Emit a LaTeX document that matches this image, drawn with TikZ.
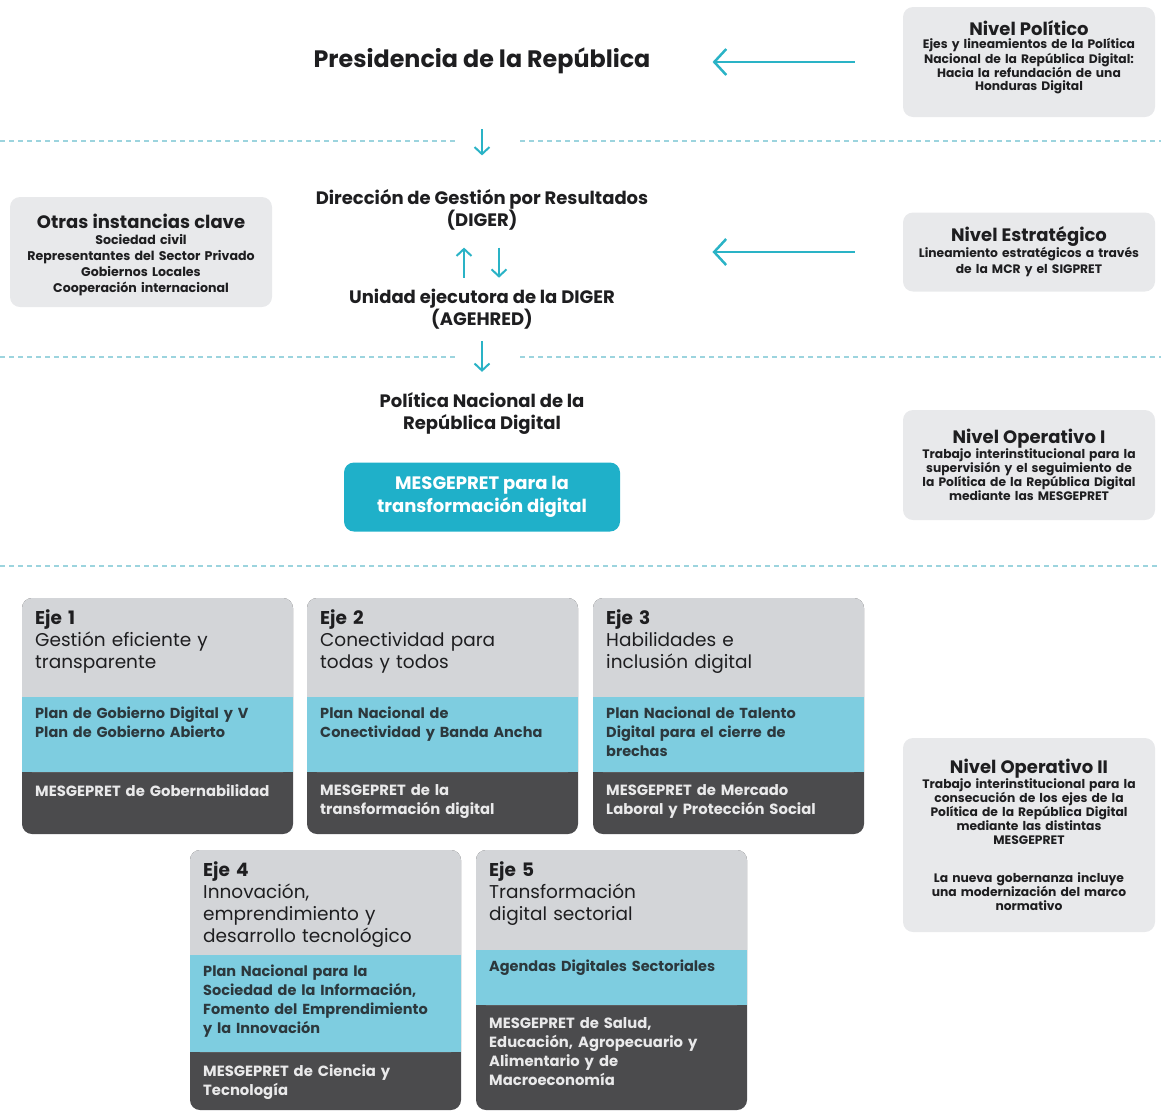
\documentclass[tikz,border=0pt]{standalone}
\usepackage{fontspec}
\setmainfont{Poppins}
\usetikzlibrary{arrows.meta}
\definecolor{Ink}{HTML}{1E1E20}
\definecolor{Teal}{HTML}{2AB3C6}
\definecolor{Dash}{HTML}{9CD4DE}
\definecolor{Panel}{HTML}{E8E9EB}
\definecolor{EjeGray}{HTML}{D3D5D8}
\definecolor{EjeBlue}{HTML}{7ECDE0}
\definecolor{EjeDark}{HTML}{4B4B4D}
\definecolor{Button}{HTML}{1FB0C9}

% one axis box: name, left, top, plan top, mesa top, bottom, texts
\newcommand{\ejebox}[9]{%
  \fill[EjeDark,rounded corners=10pt] (#2,#3) rectangle ({#2+271},#6);
  \fill[EjeGray,rounded corners=10pt] (#2,#3) rectangle ({#2+271},#5);
  \fill[EjeBlue] (#2,#4) rectangle ({#2+271},#5);
  \node[ejetitle] (#1t) at ({#2+13},{#3+11}) {#7};
  \node[ejeplan] (#1p) at ({#2+13},{#4+10}) {#8};
  \node[ejemesa] (#1m) at ({#2+13},{#5+12}) {#9};
}

\begin{document}
\begin{tikzpicture}[x=1pt,y=-1pt,
    levelbox/.style={fill=Panel,rounded corners=10pt,minimum width=252pt,text width=246pt,align=center,inner sep=0pt,text=Ink,font=\fontsize{12.3}{14}\selectfont\bfseries},
    centertext/.style={align=center,inner sep=0pt,text=Ink,font=\fontsize{18}{22}\selectfont\bfseries},
    ejetitle/.style={anchor=north west,inner sep=0pt,text width=255pt,align=left,text=Ink,font=\fontsize{18.5}{22}\selectfont},
    ejeplan/.style={anchor=north west,inner sep=0pt,text width=255pt,align=left,text=Ink!85!EjeBlue,font=\fontsize{14.5}{19}\selectfont\bfseries},
    ejemesa/.style={anchor=north west,inner sep=0pt,text width=255pt,align=left,text=white!88!EjeDark,font=\fontsize{14.8}{19}\selectfont\bfseries},
    flowarrow/.style={draw=Teal,line width=2pt,-{Straight Barb[length=7pt,width=15pt]}},
    levelarrow/.style={draw=Teal,line width=2.5pt,-{Straight Barb[length=12pt,width=26pt]}},
    sepline/.style={draw=Dash,line width=1.2pt,dash pattern=on 5pt off 4pt}
  ]
  \useasboundingbox (0,0) rectangle (1161,1112);

  % levels on the right
  \node[levelbox,minimum height=110pt,font=\fontsize{12.3}{13}\selectfont\bfseries] (npol) at (1029,62) {{\fontsize{18}{20}\selectfont Nivel Político\par}Ejes y lineamientos de la Política\\Nacional de la República Digital:\\Hacia la refundación de una\\Honduras Digital\par\vspace{9pt}};
  \node[levelbox,minimum height=79pt,font=\fontsize{12.3}{16}\selectfont\bfseries] (nest) at (1029,252) {{\fontsize{18}{20}\selectfont Nivel Estratégico\par}Lineamiento estratégicos a través\\de la MCR y el SIGPRET};
  \node[levelbox,minimum height=110pt] (nop1) at (1029,465) {{\fontsize{18}{20}\selectfont Nivel Operativo I\par}Trabajo interinstitucional para la\\supervisión y el seguimiento de\\la Política de la República Digital\\mediante las MESGEPRET};
  \node[levelbox,minimum height=194pt] (nop2) at (1029,835) {{\fontsize{18}{20}\selectfont Nivel Operativo II\par}Trabajo interinstitucional para la\\consecución de los ejes de la\\Política de la República Digital\\mediante las distintas\\MESGEPRET\par\vspace{24pt}La nueva gobernanza incluye\\una modernización del marco\\normativo};
  \node[levelbox,minimum width=262pt,minimum height=110pt,font=\fontsize{12.6}{16}\selectfont\bfseries] (otras) at (141,252) {{\fontsize{18}{20}\selectfont\rule{0pt}{21pt}Otras instancias clave\par}Sociedad civil\\Representantes del Sector Privado\\Gobiernos Locales\\Cooperación internacional};

  % centre column
  \node[centertext,font=\fontsize{23.8}{26}\selectfont\bfseries] (pres) at (482,61) {Presidencia de la República};
  \node[centertext] (diger) at (482,210) {Dirección de Gestión por Resultados\\(DIGER)};
  \node[centertext] (age) at (482,309) {Unidad ejecutora de la DIGER\\(AGEHRED)};
  \node[centertext] (pnrd) at (482,413) {Política Nacional de la\\República Digital};
  \node[fill=Button,rounded corners=10pt,minimum width=276pt,minimum height=69pt,align=center,text=white,font=\fontsize{18}{23}\selectfont\bfseries] (mesg) at (482,497) {MESGEPRET para la\\transformación digital};

  % separators
  \draw[sepline] (0,141) -- (455,141);
  \draw[sepline] (520,141) -- (1161,141);
  \draw[sepline] (0,357) -- (455,357);
  \draw[sepline] (520,357) -- (1161,357);
  \draw[sepline] (0,566) -- (1161,566);

  % arrows
  \draw[levelarrow,shorten <=48pt,shorten >=62pt] (npol.west) -- (npol.west -| pres.east);
  \draw[levelarrow,shorten <=48pt,shorten >=64pt] (nest.west) -- (nest.west -| diger.east);
  \draw[flowarrow,shorten <=55pt,shorten >=34pt] (pres.south) -- (diger.north);
  \draw[flowarrow,shorten <=11pt,shorten >=17pt] ([xshift=-18pt]age.north) -- ([xshift=-18pt]diger.south);
  \draw[flowarrow,shorten <=17pt,shorten >=11pt] ([xshift=17pt]diger.south) -- ([xshift=17pt]age.north);
  \draw[flowarrow,shorten <=12pt,shorten >=20pt] (age.south) -- (pnrd.north);

  % axes
  \ejebox{eje1}{22}{598}{697}{772}{834}{\textbf{Eje 1}\\Gestión eficiente y\\transparente}{Plan de Gobierno Digital y V\\Plan de Gobierno Abierto}{MESGEPRET de Gobernabilidad}
  \ejebox{eje2}{307}{598}{697}{772}{834}{\textbf{Eje 2}\\Conectividad para\\todas y todos}{Plan Nacional de\\Conectividad y Banda Ancha}{MESGEPRET de la\\transformación digital}
  \ejebox{eje3}{593}{598}{697}{772}{834}{\textbf{Eje 3}\\Habilidades e\\inclusión digital}{Plan Nacional de Talento\\Digital para el cierre de\\brechas}{MESGEPRET de Mercado\\Laboral y Protección Social}
  \ejebox{eje4}{190}{850}{955}{1052}{1110}{\textbf{Eje 4}\\Innovación,\\emprendimiento y\\desarrollo tecnológico}{Plan Nacional para la\\Sociedad de la Información,\\Fomento del Emprendimiento\\y la Innovación}{MESGEPRET de Ciencia y\\Tecnología}
  \ejebox{eje5}{476}{850}{950}{1005}{1110}{\textbf{Eje 5}\\Transformación\\digital sectorial}{Agendas Digitales Sectoriales}{MESGEPRET de Salud,\\Educación, Agropecuario y\\Alimentario y de\\Macroeconomía}
\end{tikzpicture}
\end{document}
